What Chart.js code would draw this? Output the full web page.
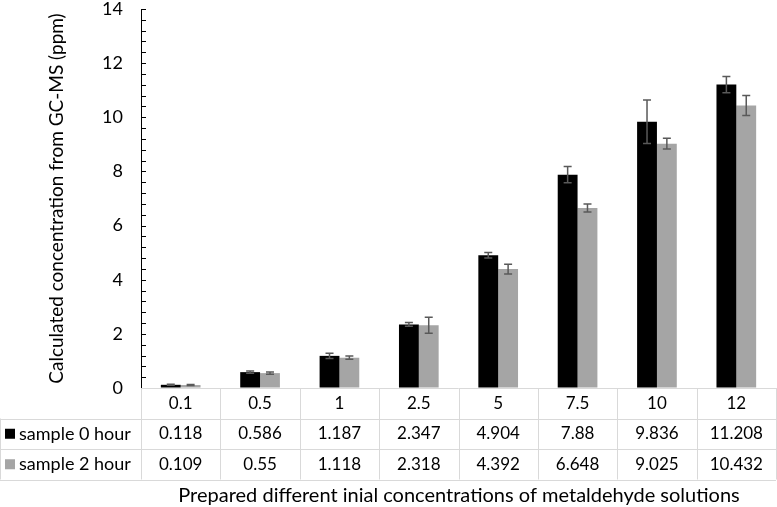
<!DOCTYPE html>
<html>
<head>
<meta charset="utf-8">
<script src="https://cdn.jsdelivr.net/npm/chart.js@4"></script>
<style>
  html, body { margin: 0; padding: 0; background: #fff; }
  #wrap { width: 777px; height: 507px; }
</style>
</head>
<body>
<div id="wrap"><canvas id="myChart" width="777" height="507"></canvas></div>
<script>
// categories and series
const categories = ['0.1', '0.5', '1', '2.5', '5', '7.5', '10', '12'];
const seriesNames = ['sample 0 hour', 'sample 2 hour'];
const sample0h = [0.118, 0.586, 1.187, 2.347, 4.904, 7.88, 9.836, 11.208];
const sample2h = [0.109, 0.55, 1.118, 2.318, 4.392, 6.648, 9.025, 10.432];
// error bar sizes
const err0h = [0.02, 0.04, 0.1, 0.07, 0.1, 0.3, 0.8, 0.3];
const err2h = [0.02, 0.04, 0.06, 0.3, 0.18, 0.15, 0.2, 0.37];
const seriesColors = ['#000000', '#a5a5a5'];
const yTicks = [0, 2, 4, 6, 8, 10, 12, 14];
const minorStep = 0.4;

const FONT = 'Lato, "Open Sans", sans-serif';

// error bars
const errorBarPlugin = {
    id: 'errorBars',
    afterDatasetsDraw(chart) {
        const ctx = chart.ctx;
        const y = chart.scales.y;
        const errs = [err0h, err2h];
        ctx.save();
        ctx.strokeStyle = '#595959';
        ctx.lineWidth = 1.5;
        chart.data.datasets.forEach((ds, i) => {
            const meta = chart.getDatasetMeta(i);
            meta.data.forEach((bar, j) => {
                const v = ds.data[j];
                const e = errs[i][j];
                const top = y.getPixelForValue(v + e);
                const bot = y.getPixelForValue(v - e);
                ctx.beginPath();
                ctx.moveTo(bar.x, top); ctx.lineTo(bar.x, bot);
                ctx.moveTo(bar.x - 4, top); ctx.lineTo(bar.x + 4, top);
                ctx.moveTo(bar.x - 4, bot); ctx.lineTo(bar.x + 4, bot);
                ctx.stroke();
            });
        });
        ctx.restore();
    }
};

// inside tick marks on the y axis + y title
const innerTicksPlugin = {
    id: 'innerTicks',
    afterDraw(chart) {
        const ctx = chart.ctx;
        const y = chart.scales.y;
        const area = chart.chartArea;
        ctx.save();
        ctx.strokeStyle = '#000';
        ctx.lineWidth = 1;
        for (let v = 0; v <= y.max + 1e-6; v += minorStep) {
            const py = Math.round(y.getPixelForValue(v)) + 0.5;
            ctx.beginPath();
            ctx.moveTo(area.left, py);
            ctx.lineTo(area.left + 5, py);
            ctx.stroke();
        }
        // y axis title
        ctx.translate(57, (area.top + area.bottom) / 2);
        ctx.rotate(-Math.PI / 2);
        ctx.fillStyle = '#000';
        ctx.font = '19px ' + FONT;
        ctx.textAlign = 'center';
        ctx.textBaseline = 'middle';
        ctx.fillText('Calculated concentration from GC-MS (ppm)', 0, 0);
        ctx.restore();
    }
};

// data table under the plot
const dataTablePlugin = {
    id: 'dataTable',
    afterDraw(chart) {
        const ctx = chart.ctx;
        const x = chart.scales.x;
        const area = chart.chartArea;
        const colW = (area.right - area.left) / categories.length;
        const rowH = 30.5;
        const top = area.bottom;
        const rows = [sample0h, sample2h];
        ctx.save();
        ctx.strokeStyle = '#d9d9d9';
        ctx.lineWidth = 1;
        // horizontal lines
        ctx.beginPath();
        ctx.moveTo(area.left, top + 0.5); ctx.lineTo(area.right, top + 0.5);
        for (let r = 1; r <= 3; r++) {
            const py = Math.round(top + r * rowH) + 0.5;
            ctx.moveTo(0, py); ctx.lineTo(area.right, py);
        }
        // vertical lines
        for (let c = 0; c <= categories.length; c++) {
            const px = Math.round(area.left + c * colW) + 0.5;
            ctx.moveTo(px, top); ctx.lineTo(px, top + 3 * rowH);
        }
        ctx.moveTo(0.5, top + rowH); ctx.lineTo(0.5, top + 3 * rowH);
        ctx.stroke();

        ctx.fillStyle = '#000';
        ctx.font = '17px ' + FONT;
        ctx.textAlign = 'center';
        ctx.textBaseline = 'middle';
        categories.forEach((c, i) => {
            const cx = x.getPixelForValue(i);
            ctx.fillText(c, cx, top + rowH / 2);
            rows.forEach((vals, r) => {
                ctx.fillText(String(vals[i]), cx, top + rowH * (r + 1.5));
            });
        });
        // row headers with legend keys
        ctx.textAlign = 'left';
        ctx.font = '18px ' + FONT;
        seriesNames.forEach((name, r) => {
            const cy = top + rowH * (r + 1.5);
            ctx.fillStyle = seriesColors[r];
            ctx.fillRect(5, cy - 5, 10, 10);
            ctx.fillStyle = '#000';
            ctx.fillText(name, 19, cy);
        });
        // x axis title
        ctx.textAlign = 'center';
        ctx.font = '20px ' + FONT;
        ctx.fillText('Prepared different inial concentrations of metaldehyde solutions', 459, 496);
        ctx.restore();
    }
};

new Chart(document.getElementById('myChart').getContext('2d'), {
    type: 'bar',
    data: {
        labels: categories,
        datasets: [
            { label: seriesNames[0], data: sample0h, backgroundColor: seriesColors[0] },
            { label: seriesNames[1], data: sample2h, backgroundColor: seriesColors[1] }
        ]
    },
    options: {
        responsive: false,
        animation: false,
        layout: { padding: { top: 9, right: 1, bottom: 119, left: 0 } },
        datasets: { bar: { categoryPercentage: 0.5, barPercentage: 1.0 } },
        plugins: { legend: { display: false }, tooltip: { enabled: false } },
        scales: {
            x: { display: false },
            y: {
                min: 0, max: 14,
                afterFit(s) { s.width = 141; s.paddingTop = 0; s.paddingBottom = 0; },
                afterBuildTicks(s) { s.ticks = yTicks.map(v => ({ value: v })); },
                border: { display: true, color: '#000', width: 1 },
                grid: { drawOnChartArea: false, drawTicks: false },
                ticks: { padding: 18, color: '#000', font: { family: FONT, size: 18 } },
                title: { display: false }
            }
        }
    },
    plugins: [errorBarPlugin, innerTicksPlugin, dataTablePlugin]
});
</script>
</body>
</html>
